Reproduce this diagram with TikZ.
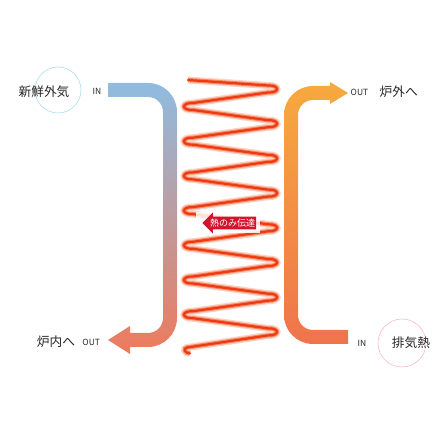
\documentclass[tikz,border=0pt]{standalone}
\usepackage{fontspec}
\setmainfont{Noto Sans CJK JP}
\usetikzlibrary{positioning}
\usetikzlibrary{shapes,arrows}
\definecolor{inblue}{HTML}{8FBCE0}
\definecolor{insalmon}{HTML}{EE7A5C}
\definecolor{outorange}{HTML}{F6AA3E}
\definecolor{outred}{HTML}{EF744C}
\definecolor{coilred}{HTML}{EE3A10}
\definecolor{glowA}{HTML}{FBD2C4}
\definecolor{glowB}{HTML}{F58A68}
\definecolor{tagred}{HTML}{D2142C}
\definecolor{ringblue}{HTML}{A8DCF2}
\definecolor{ringpink}{HTML}{F6BCC4}
\tikzstyle{jp} = [font=\fontsize{12.7}{13}\selectfont, text=black!85, inner sep=0pt]
\tikzstyle{io} = [font=\fontsize{8.5}{9}\selectfont, text=black!85, inner sep=0pt]
\tikzstyle{ring} = [draw, circle, line width=0.6pt, inner sep=0pt]
\tikzstyle{coil} = [draw=coilred, line width=2.2pt, line cap=round, line join=round,
                preaction={draw=glowA, line width=7pt}, preaction={draw=glowB, line width=4.2pt}]
\tikzstyle{tag} = [single arrow, fill=tagred, shape border rotate=180, text=white,
                font=\fontsize{9}{9}\selectfont, inner xsep=1pt, inner ysep=2pt,
                single arrow head extend=4pt, single arrow tip angle=90]

\begin{document}
\begin{tikzpicture}[x=1pt, y=1pt]
        \useasboundingbox (0,0) rectangle (448,448);
        % fresh air band
        \shade[top color=inblue, bottom color=insalmon]
            (108,365) -- (148,365) arc[start angle=90, end angle=0, radius=29]
            -- (177,130) arc[start angle=0, end angle=-90, radius=29]
            -- (130,101) -- (130,94) -- (108,108) -- (130,122) -- (130,115) -- (148,115)
            arc[start angle=-90, end angle=0, radius=15]
            -- (163,336) arc[start angle=0, end angle=90, radius=15]
            -- (108,351) -- cycle;
        % exhaust band
        \shade[top color=outorange, bottom color=outred]
            (348,355) -- (330,366) -- (330,362) -- (313,362) arc[start angle=90, end angle=180, radius=29]
            -- (284,133) arc[start angle=180, end angle=270, radius=29]
            -- (348,104) -- (348,118) -- (313,118) arc[start angle=270, end angle=180, radius=15]
            -- (298,333) arc[start angle=180, end angle=90, radius=15]
            -- (330,348) -- (330,344) -- cycle;
        % coil
        \path[coil] (188,368)
            \foreach \k in {0,...,6} {
                -- (268,{362.5-34.7*\k}) .. controls (280,{363-34.7*\k}) and (280,{355-34.7*\k}) .. (268,{355.5-34.7*\k})
                -- (193,{345-34.7*\k}) .. controls (181,{345.5-34.7*\k}) and (181,{337.5-34.7*\k}) .. (193,{338-34.7*\k})
            }
            -- (268,119.6) .. controls (280,120.1) and (280,112.1) .. (268,112.6)
            -- (187,100.5) .. controls (183,99.8) and (184,95) .. (190,94.5);
        \fill[white, opacity=0.85] (196,215) rectangle (260,236);
        \node[tag] (heat) at (232.5,225) {熱のみ伝達};
        % labels
        \node[ring, draw=ringblue, minimum size=46pt] (freshring) at (58,358) {};
        \node[jp] (fresh) at (44,356) {新鮮外気};
        \node[io] (in1) at (97,357) {IN};
        \node[io] (out1) at (359.5,356) {OUT};
        \node[jp, right=11pt of out1] (outside) {炉外へ};
        \node[jp] (furnace) at (56,106) {炉内へ};
        \node[io, right=7pt of furnace] (out2) {OUT};
        \node[ring, draw=ringpink, minimum size=48pt] (exhring) at (402,105) {};
        \node[io] (in2) at (362,105) {IN};
        \node[jp] (exhaust) at (411,105) {排気熱};
        \end{tikzpicture}
\end{document}
